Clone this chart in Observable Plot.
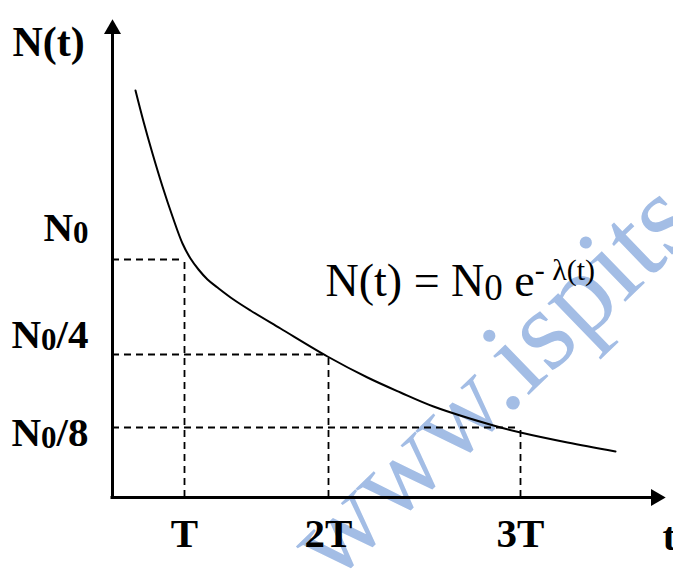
<!DOCTYPE html>
<html><head><meta charset="utf-8">
<script src="https://cdn.jsdelivr.net/npm/d3@7"></script>
<script src="https://cdn.jsdelivr.net/npm/@observablehq/plot@0.6"></script>
<style>html,body{margin:0;padding:0;background:#fff;} #chart{width:673px;height:569px;overflow:hidden}</style>
</head><body><div id="chart"></div>
<script>
// Chart units: t to the right of the N axis, N above the t axis
const levelValues = [238, 143, 70];            // N0, N0/4, N0/8
const levelLabels = ["N0", "N0/4", "N0/8"];
const timeValues = [72, 216, 408];             // T, 2T, 3T
const timeLabels = ["T", "2T", "3T"];
const curveT = [23, 31, 40, 50, 60, 70, 78, 86, 95, 105, 121, 138, 168, 215, 255, 288, 321, 381, 408, 455, 503];
const curveN = [407, 376, 344, 311, 281, 254, 239, 228, 218, 210, 198, 187, 169, 141, 120, 105, 91, 72, 65, 55, 46];
const axisEnds = [553, 478];                    // tips of t arrow and N arrow
const yAxisTitle = "N(t)";
const xAxisTitle = "t";
const equation = "N(t) = N0 e- λ(t)";
const equationAt = [213, 202];
const watermark = "www.ispits";
const watermarkAt = [220, -87];

const curve = curveT.map((t, i) => ({t, n: curveN[i]}));
const dash = {stroke: "black", strokeWidth: 1.8, strokeDasharray: "7,5"};
const serif = "Liberation Serif";
const labelDy = [-19, -7, 18];

const marks = [
  Plot.text([watermark], {x: () => watermarkAt[0], y: () => watermarkAt[1], text: d => d, rotate: -44,
    fontSize: 115, fill: "#a3bde5", textAnchor: "start", lineAnchor: "bottom", fontFamily: serif}),
  // dashed guides
  ...levelValues.map((v, i) => Plot.ruleY([v], {x1: 0, x2: timeValues[i], ...dash})),
  ...timeValues.map((t, i) => Plot.ruleX([t], {y1: 0, y2: levelValues[i], ...dash})),
  // axes
  Plot.ruleX([0], {y1: 0, y2: axisEnds[1] - 12, stroke: "black", strokeWidth: 3}),
  Plot.ruleY([0], {x1: -1.5, x2: axisEnds[0] - 12, stroke: "black", strokeWidth: 3}),
  Plot.dot([0], {x: () => 0, y: () => axisEnds[1] - 9.6, symbol: "triangle", r: 6.3, fill: "black", stroke: "none"}),
  Plot.dot([0], {x: () => axisEnds[0] - 9.6, y: () => 0, symbol: "triangle", r: 6.3, fill: "black", stroke: "none", rotate: 90}),
  // curve
  Plot.line(curve, {x: "t", y: "n", curve: "catmull-rom", stroke: "black", strokeWidth: 2}),
  // labels
  ...levelValues.map((v, i) => Plot.text([levelLabels[i]], {x: () => 0, y: () => v, text: d => d, dx: -24, dy: labelDy[i],
    textAnchor: "end", lineAnchor: "bottom", fontSize: 41, fontWeight: "bold", fontFamily: serif, fill: "black"})),
  Plot.text(timeLabels, {x: (d, i) => timeValues[i], y: () => 0, text: d => d, dy: 49,
    textAnchor: "middle", lineAnchor: "bottom", fontSize: 41, fontWeight: "bold", fontFamily: serif, fill: "black"}),
  Plot.text([yAxisTitle], {x: () => 0, y: () => axisEnds[1], text: d => d, dx: -100, dy: 36,
    textAnchor: "start", lineAnchor: "bottom", fontSize: 42, fontWeight: "bold", fontFamily: serif, fill: "black"}),
  Plot.text([xAxisTitle], {x: () => axisEnds[0], y: () => 0, text: d => d, dx: -3, dy: 52,
    textAnchor: "start", lineAnchor: "bottom", fontSize: 41, fontWeight: "bold", fontFamily: serif, fill: "black"}),
  Plot.text([equation], {x: () => equationAt[0], y: () => equationAt[1], text: d => d,
    textAnchor: "start", lineAnchor: "bottom", fontSize: 46, fontFamily: serif, fill: "black"})
];

const svg = Plot.plot({
  width: 673, height: 569, margin: 0,
  x: {domain: [-112, 561], axis: null},
  y: {domain: [-72, 497], axis: null},
  style: {background: "white", fontFamily: serif, overflow: "hidden"},
  marks
});

const NS = "http://www.w3.org/2000/svg";
function rich(el, parts) {
  el.textContent = "";
  let cur = 0;
  for (const p of parts) {
    const ts = document.createElementNS(NS, "tspan");
    if (p.size) ts.setAttribute("font-size", p.size);
    const shift = p.shift || 0;
    if (shift - cur) ts.setAttribute("dy", shift - cur);
    cur = shift;
    ts.textContent = p.t;
    el.appendChild(ts);
  }
}
svg.querySelectorAll("text").forEach(el => {
  const s = el.textContent;
  if (s === equation) {
    rich(el, [{t: "N(t) = N"}, {t: "0", size: 37, shift: 4}, {t: "\u00a0e"}, {t: "-", size: 30, shift: -16}, {t: "\u00a0λ(t)", size: 30, shift: -16}]);
  } else if (levelLabels.includes(s)) {
    rich(el, [{t: "N"}, {t: "0", size: 31, shift: 2}, {t: s.slice(2)}]);
  }
});
document.getElementById("chart").appendChild(svg);
</script>
</body></html>
